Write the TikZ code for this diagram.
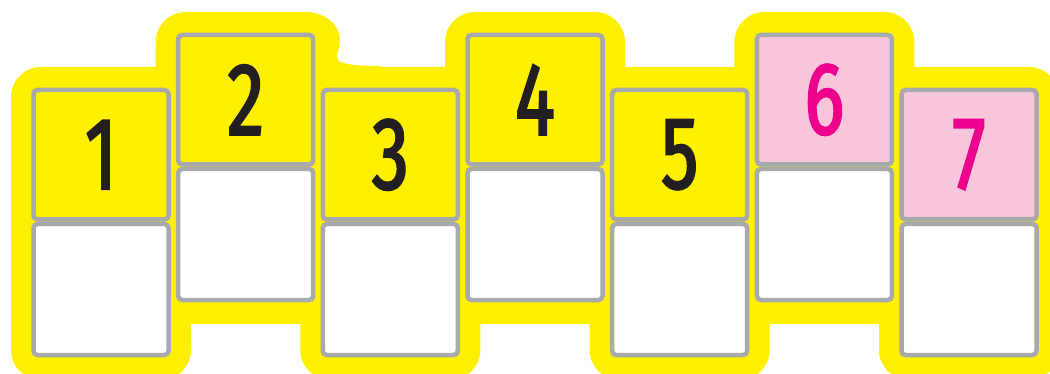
\documentclass[tikz,border=0pt]{standalone}
\usepackage{fontspec}
\usepackage{tikz}
\usetikzlibrary{positioning}
\newfontfamily\digitfont[FakeStretch=0.72, FakeBold=2]{Fira Sans}
\definecolor{padyellow}{RGB}{255, 240, 0}
\definecolor{boxgray}{RGB}{167, 169, 172}
\definecolor{cellpink}{RGB}{247, 198, 218}
\definecolor{digitpink}{RGB}{236, 0, 140}
\definecolor{digitblack}{RGB}{35, 31, 32}

\begin{document}
\begin{tikzpicture}[x=1pt, y=-1pt,
    numbox/.style={draw=boxgray, line width=4.5pt, rounded corners=4pt, fill=padyellow,
      minimum width=135pt, minimum height=129.5pt, inner sep=0pt, outer sep=0pt,
      anchor=north west, text=digitblack, font=\digitfont\fontsize{103}{103}\selectfont},
    pinkbox/.style={numbox, fill=cellpink, text=digitpink},
    blankbox/.style={draw=boxgray, line width=4.5pt, rounded corners=4pt, fill=white,
      minimum width=135pt, minimum height=131pt, inner sep=0pt, outer sep=0pt},
    pad/.style={fill=padyellow, rounded corners=30pt}]
  \useasboundingbox (0,0) rectangle (1050,374);
  \clip (0,0) rectangle (1050,374);
  % yellow backing, one pad per column
  \fill[pad] (11,67)      rectangle (191,380);
  \fill[pad] (155.7,12)   rectangle (335.7,324);
  \fill[pad] (300.3,67)   rectangle (480.3,380);
  \fill[pad] (445,12)     rectangle (625,324);
  \fill[pad] (589.7,67)   rectangle (769.7,380);
  \fill[pad] (734.4,12)   rectangle (914.4,324);
  \fill[pad] (879,67)     rectangle (1059,380);
  % small wobble between pads 2 and 3
  \fill[padyellow] (305,12) .. controls (325,12) and (341,25) .. (340,42)
    .. controls (339,50) and (335,56) .. (338,60)
    .. controls (341,64) and (355,66) .. (380,66) -- (380,72) -- (305,72) -- cycle;
  % numbered cells
  \node[numbox]  (n1) at (33.5,90)  {1};
  \node[numbox]  (n2) at (178.2,35) {2};
  \node[numbox]  (n3) at (322.8,90) {3};
  \node[numbox]  (n4) at (467.5,35) {4};
  \node[numbox]  (n5) at (612.2,90) {5};
  \node[pinkbox] (n6) at (756.9,35) {6};
  \node[pinkbox] (n7) at (901.5,90) {7};
  % empty cells below
  \node[blankbox, below=4.5pt of n1] (b1) {};
  \node[blankbox, below=4.5pt of n2] (b2) {};
  \node[blankbox, below=4.5pt of n3] (b3) {};
  \node[blankbox, below=4.5pt of n4] (b4) {};
  \node[blankbox, below=4.5pt of n5] (b5) {};
  \node[blankbox, below=4.5pt of n6] (b6) {};
  \node[blankbox, below=4.5pt of n7] (b7) {};
\end{tikzpicture}
\end{document}
